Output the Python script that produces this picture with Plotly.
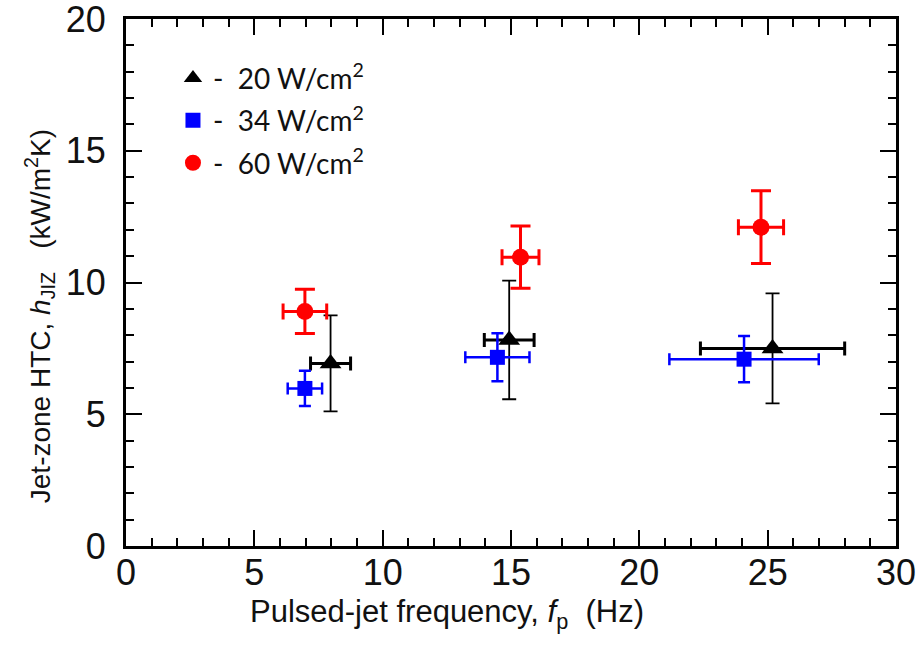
import plotly.graph_objects as go

# ---- data ----
labels = ["-  20 W/cm<sup>2</sup>", "-  34 W/cm<sup>2</sup>", "-  60 W/cm<sup>2</sup>"]

x_20 = [7.97, 14.93, 25.19]
y_20 = [6.93, 7.82, 7.50]
xerr_20 = [0.78, 0.97, 2.81]
yerr_20 = [1.82, 2.25, 2.09]

x_34 = [6.97, 14.47, 24.08]
y_34 = [5.98, 7.16, 7.09]
xerr_34 = [0.67, 1.25, 2.91]
yerr_34 = [0.67, 0.91, 0.88]

x_60 = [6.97, 15.37, 24.74]
y_60 = [8.90, 10.96, 12.10]
xerr_60 = [0.85, 0.72, 0.88]
yerr_60 = [0.84, 1.18, 1.38]

xticks = [0, 5, 10, 15, 20, 25, 30]
yticks = [0, 5, 10, 15, 20]

x_title = "Pulsed-jet frequency, <i>f</i><sub>p</sub>  (Hz)"
y_title = "Jet-zone HTC, <i>h</i><sub>JIZ</sub>   (kW/m<sup>2</sup>K)"

fig = go.Figure()

series = [
    (x_20, y_20, xerr_20, yerr_20, labels[0], "black", "triangle-up", 19, 1.8, 3, 7, 7),
    (x_34, y_34, xerr_34, yerr_34, labels[1], "#0000ff", "square", 15, 2.5, 2.5, 6, 6),
    (x_60, y_60, xerr_60, yerr_60, labels[2], "#ff0000", "circle", 17, 3, 3, 10, 8),
]
for i, (xs, ys, xe, ye, name, col, sym, sz, wy, wx, capy, capx) in enumerate(series):
    fig.add_trace(go.Scatter(
        x=xs, y=ys, mode="markers", name=name, legendgroup=f"g{i}",
        marker=dict(symbol=sym, size=sz, color=col, line=dict(width=0)),
        error_y=dict(type="data", array=ye, visible=True, color=col, thickness=wy, width=capy),
        error_x=dict(type="data", array=xe, visible=True, color=col, thickness=wx, width=capx),
    ))

tickfont = dict(family="Liberation Sans Narrow, Arial Narrow, Liberation Sans, Arial", size=36, color="#111")
fig.update_layout(
    width=917, height=647,
    margin=dict(l=126, r=21, t=19, b=101),
    paper_bgcolor="white", plot_bgcolor="white",
    showlegend=True,
    legend=dict(x=0.061, y=0.935, xanchor="left", yanchor="top",
                bgcolor="rgba(0,0,0,0)", tracegroupgap=3,
                font=dict(family="Lato, Carlito, Liberation Sans", size=28, color="#111")),
    xaxis=dict(
        range=[0, 30], tickvals=xticks, ticks="inside", ticklen=16, tickwidth=2, tickcolor="black",
        showline=True, linewidth=3, linecolor="black", mirror="allticks", showgrid=False, zeroline=False,
        minor=dict(dtick=1, ticks="inside", ticklen=8, tickwidth=1.5, tickcolor="black", showgrid=False),
        tickfont=tickfont, automargin=False, ticklabeloverflow="allow", ticklabelstandoff=-7,
    ),
    yaxis=dict(
        range=[0, 20], tickvals=yticks, ticks="inside", ticklen=16, tickwidth=2, tickcolor="black",
        showline=True, linewidth=3, linecolor="black", mirror="allticks", showgrid=False, zeroline=False,
        minor=dict(dtick=1, ticks="inside", ticklen=8, tickwidth=1.5, tickcolor="black", showgrid=False),
        tickfont=tickfont, automargin=False, ticklabeloverflow="allow", ticklabelstandoff=10,
    ),
    annotations=[
        dict(text=x_title, xref="paper", yref="paper", x=0.417, y=-0.087,
             xanchor="center", yanchor="top", showarrow=False,
             font=dict(family="Liberation Sans Narrow, Arial Narrow, Liberation Sans", size=31, color="#111")),
        dict(text=y_title, xref="paper", yref="paper", x=-0.1117, y=0.436, textangle=-90,
             xanchor="center", yanchor="middle", showarrow=False,
             font=dict(family="Liberation Sans, Arial", size=28, color="#111")),
    ],
)

fig.write_html("out.html", config={"displayModeBar": False},
               post_script="document.body.style.margin='0';")
